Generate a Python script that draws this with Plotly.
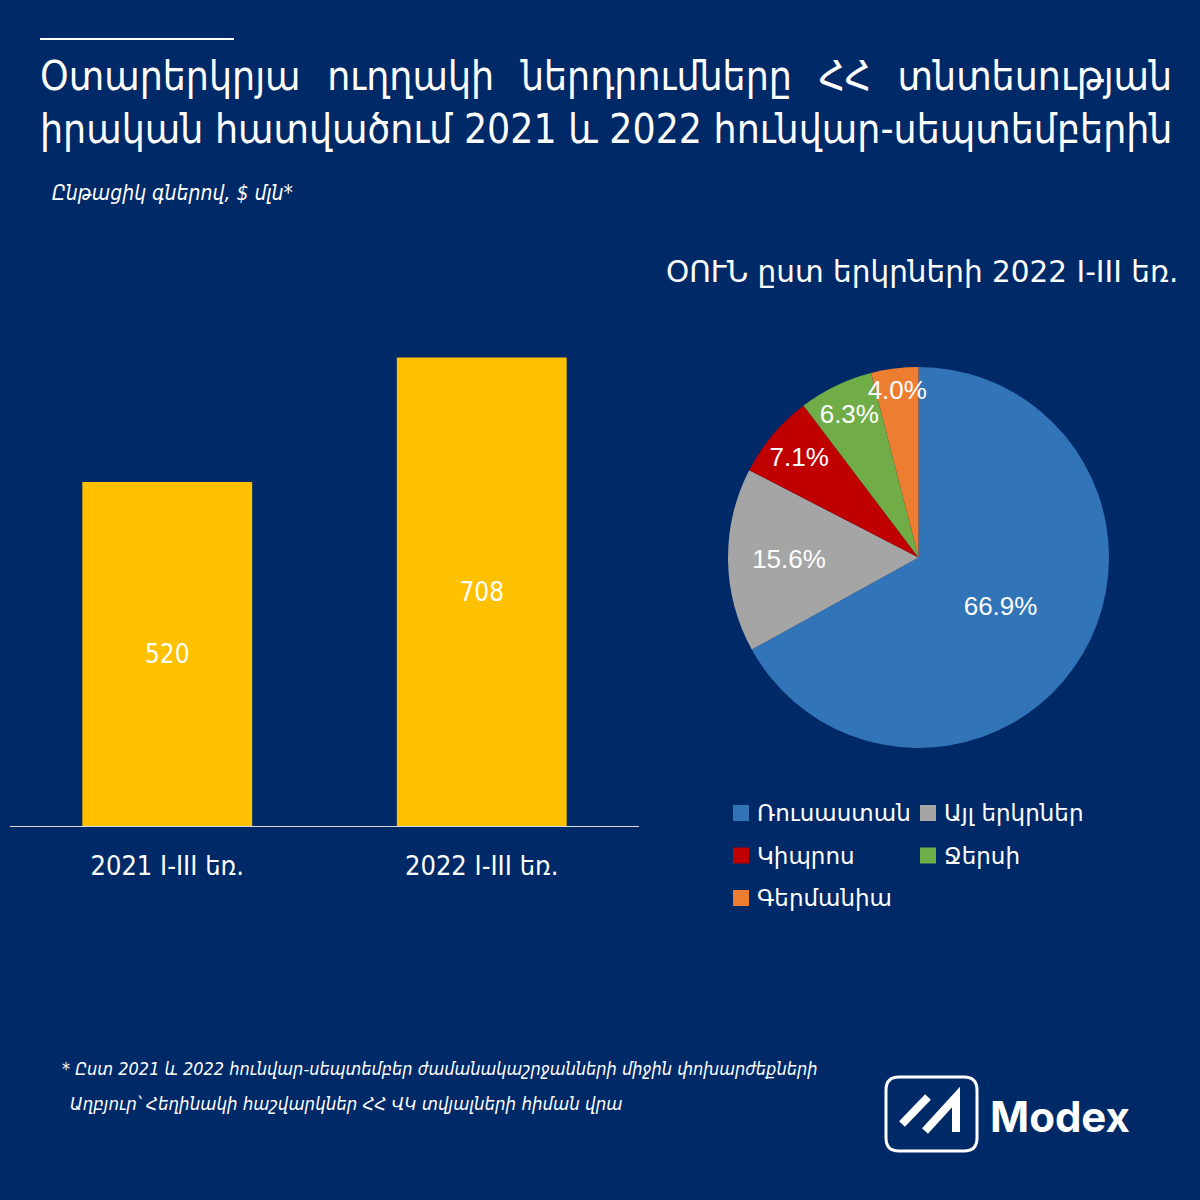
import plotly.graph_objects as go

# data
periods = ["2021 I-III եռ.", "2022 I-III եռ."]
fdi = [520, 708]

countries = ["Ռուսաստան", "Այլ երկրներ", "Կիպրոս", "Ջերսի", "Գերմանիա"]
shares = [66.9, 15.6, 7.1, 6.3, 4.0]
pie_colors = ["#3174B8", "#A5A5A5", "#C00000", "#70AD47", "#ED7D31"]

BG = "#002968"
W = H = 1200
COND = "DejaVu Sans Condensed, DejaVu Sans, sans-serif"
REG = "DejaVu Sans, Liberation Sans, sans-serif"


def px(x):
    return x / W


def py(y):
    return 1 - y / H


fig = go.Figure()

fig.add_trace(go.Bar(
    x=periods, y=fdi,
    marker=dict(color="#FFC000", line=dict(width=0)),
    text=fdi, textposition="inside", insidetextanchor="middle",
    textfont=dict(color="white", size=23, family=COND),
    showlegend=False, xaxis="x", yaxis="y",
))

fig.add_trace(go.Pie(
    labels=countries, values=shares,
    marker=dict(colors=pie_colors, line=dict(width=0)),
    sort=False, direction="clockwise", rotation=0,
    texttemplate="%{value:.1f}%", textposition="inside",
    insidetextorientation="horizontal",
    textfont=dict(color="white", size=26, family="Liberation Sans, Arial, sans-serif"),
    domain=dict(x=[px(728), px(1109)], y=[py(748), py(367)]),
    hoverinfo="label+percent", showlegend=False,
))

fig.update_layout(
    width=W, height=H,
    margin=dict(l=0, r=0, t=0, b=0),
    paper_bgcolor=BG, plot_bgcolor=BG,
    bargap=0.46,
    showlegend=False,
    uniformtext=dict(minsize=26, mode="show"),
    xaxis=dict(domain=[px(10), px(639)], showline=True, linecolor="#D9D9D9", linewidth=1,
               showgrid=False, zeroline=False, ticks="", ticklabelstandoff=16,
               tickfont=dict(color="white", size=27, family=COND), fixedrange=True),
    yaxis=dict(domain=[py(826), py(300)], range=[0, 795], visible=False, fixedrange=True),
)

# legend for the pie, two columns under it
for i, (name, color) in enumerate(zip(countries, pie_colors)):
    lx = 733 + (i % 2) * 187
    ly = 813 + (i // 2) * 42.5
    fig.add_shape(type="rect", xref="paper", yref="paper",
                  x0=px(lx), x1=px(lx + 16), y0=py(ly - 8), y1=py(ly + 8),
                  fillcolor=color, line=dict(width=0))
    fig.add_annotation(text=name, x=px(lx + 22), y=py(ly), xref="paper", yref="paper",
                       xanchor="left", yanchor="middle", showarrow=False,
                       font=dict(color="white", size=23, family=REG))

gap = "\u00a0\u00a0\u200a"
anns = [
    dict(text=gap.join(["Օտարերկրյա", "ուղղակի", "ներդրումները", "ՀՀ", "տնտեսության"]),
         x=px(38), y=py(76), size=40.5, family=COND, style="normal"),
    dict(text="իրական հատվածում 2021 և 2022 հունվար-սեպտեմբերին",
         x=px(38), y=py(129), size=40.5, family=COND, style="normal"),
    dict(text="Ընթացիկ գներով, $ մլն*", x=px(50), y=py(193), size=21, family=COND, style="italic"),
    dict(text="ՕՈՒՆ ըստ երկրների 2022 I-III եռ.", x=px(664), y=py(272), size=29.5, family=REG, style="normal"),
    dict(text="* Ըստ 2021 և 2022 հունվար-սեպտեմբեր ժամանակաշրջանների միջին փոխարժեքների",
         x=px(60), y=py(1068), size=18, family=COND, style="italic"),
    dict(text="Աղբյուր՝ Հեղինակի հաշվարկներ ՀՀ ՎԿ տվյալների հիման վրա",
         x=px(68), y=py(1103), size=18.5, family=COND, style="italic"),
]
for a in anns:
    fig.add_annotation(text=a["text"], x=a["x"], y=a["y"], xref="paper", yref="paper",
                       xanchor="left", yanchor="middle", showarrow=False,
                       font=dict(color="white", size=a["size"], family=a["family"], style=a["style"]))

# logo text
fig.add_annotation(text="<b>Modex</b>", x=px(988), y=py(1116), xref="paper", yref="paper",
                   xanchor="left", yanchor="middle", showarrow=False,
                   font=dict(color="white", size=42, family="Inter, Lato, sans-serif"))

# decorative line above title
fig.add_shape(type="line", xref="paper", yref="paper", x0=px(40), x1=px(234), y0=py(39), y1=py(39),
              line=dict(color="white", width=2))

# logo frame and strokes
x0, x1, y0, y1, r = 886, 977, 1077, 1151, 13
frame = (f"M {px(x0 + r)},{py(y0)} L {px(x1 - r)},{py(y0)} Q {px(x1)},{py(y0)} {px(x1)},{py(y0 + r)} "
         f"L {px(x1)},{py(y1 - r)} Q {px(x1)},{py(y1)} {px(x1 - r)},{py(y1)} "
         f"L {px(x0 + r)},{py(y1)} Q {px(x0)},{py(y1)} {px(x0)},{py(y1 - r)} "
         f"L {px(x0)},{py(y0 + r)} Q {px(x0)},{py(y0)} {px(x0 + r)},{py(y0)} Z")
fig.add_shape(type="path", xref="paper", yref="paper", path=frame, line=dict(color="white", width=3))
fig.add_shape(type="line", xref="paper", yref="paper", x0=px(902), y0=py(1124), x1=px(928), y1=py(1097),
              line=dict(color="white", width=8))
fig.add_shape(type="path", xref="paper", yref="paper",
              path=f"M {px(925)},{py(1131)} L {px(956)},{py(1097)} L {px(956)},{py(1132)}",
              line=dict(color="white", width=8))

fig.write_html("out.html", config={"displayModeBar": False},
               post_script=f"document.body.style.margin='0';document.body.style.background='{BG}';")
